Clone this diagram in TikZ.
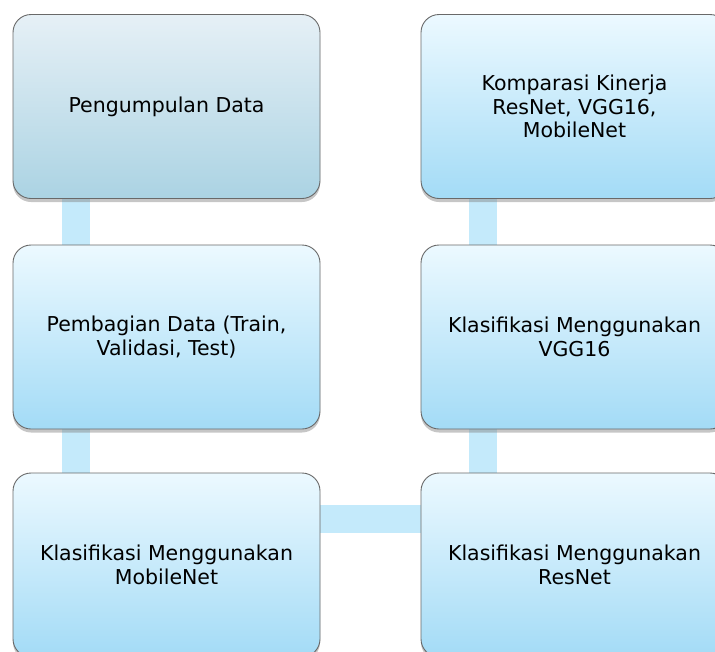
\documentclass[tikz,border=0pt]{standalone}
\usepackage{fontspec}
\setmainfont{DejaVu Sans}
\usepackage{tikz}
\usetikzlibrary{shadows,backgrounds,calc}
\definecolor{BoxTop}{RGB}{236,249,255}
\definecolor{BoxBot}{RGB}{163,219,246}
\definecolor{GreyTop}{RGB}{230,240,246}
\definecolor{GreyBot}{RGB}{171,211,227}
\definecolor{BarBlue}{RGB}{196,234,251}
\definecolor{EdgeGrey}{RGB}{105,105,105}

\begin{document}
\begin{tikzpicture}[x=1pt,y=1pt,
    stage/.style={draw=EdgeGrey,line width=0.9pt,rounded corners=18pt,minimum width=307pt,minimum height=184pt,
      inner sep=0pt,align=center,top color=BoxTop,bottom color=BoxBot,
      drop shadow={shadow xshift=0pt,shadow yshift=-3.5pt,opacity=0.45},
      font=\fontsize{20.5}{23.5}\selectfont},
    stagefirst/.style={stage,top color=GreyTop,bottom color=GreyBot},
    bar/.style={BarBlue,line width=28pt}]
      \useasboundingbox (0,0) rectangle (715,-651);
      \node[stagefirst] (kumpul) at (166.5,-106.5) {Pengumpulan Data};
      \node[stage] (bagi) at (166.5,-337) {Pembagian Data (Train,\\Validasi, Test)};
      \node[stage] (mobile) at (166.5,-565) {Klasifikasi Menggunakan\\MobileNet};
      \node[stage] (resnet) at (574.5,-565) {Klasifikasi Menggunakan\\ResNet};
      \node[stage] (vgg) at (574.5,-337) {Klasifikasi Menggunakan\\VGG16};
      \node[stage] (banding) at (574.5,-106.5) {Komparasi Kinerja\\ResNet, VGG16,\\MobileNet};
      \begin{scope}[on background layer]
        \draw[bar] ([xshift=63pt]kumpul.south west) -- ([xshift=63pt]bagi.north west);
        \draw[bar] ([xshift=63pt]bagi.south west) -- ([xshift=63pt]mobile.north west);
        \draw[bar] ([yshift=-46pt]mobile.north east) -- ([yshift=-46pt]resnet.north west);
        \draw[bar] ([xshift=62pt]resnet.north west) -- ([xshift=62pt]vgg.south west);
        \draw[bar] ([xshift=62pt]vgg.north west) -- ([xshift=62pt]banding.south west);
      \end{scope}
    \end{tikzpicture}
\end{document}
